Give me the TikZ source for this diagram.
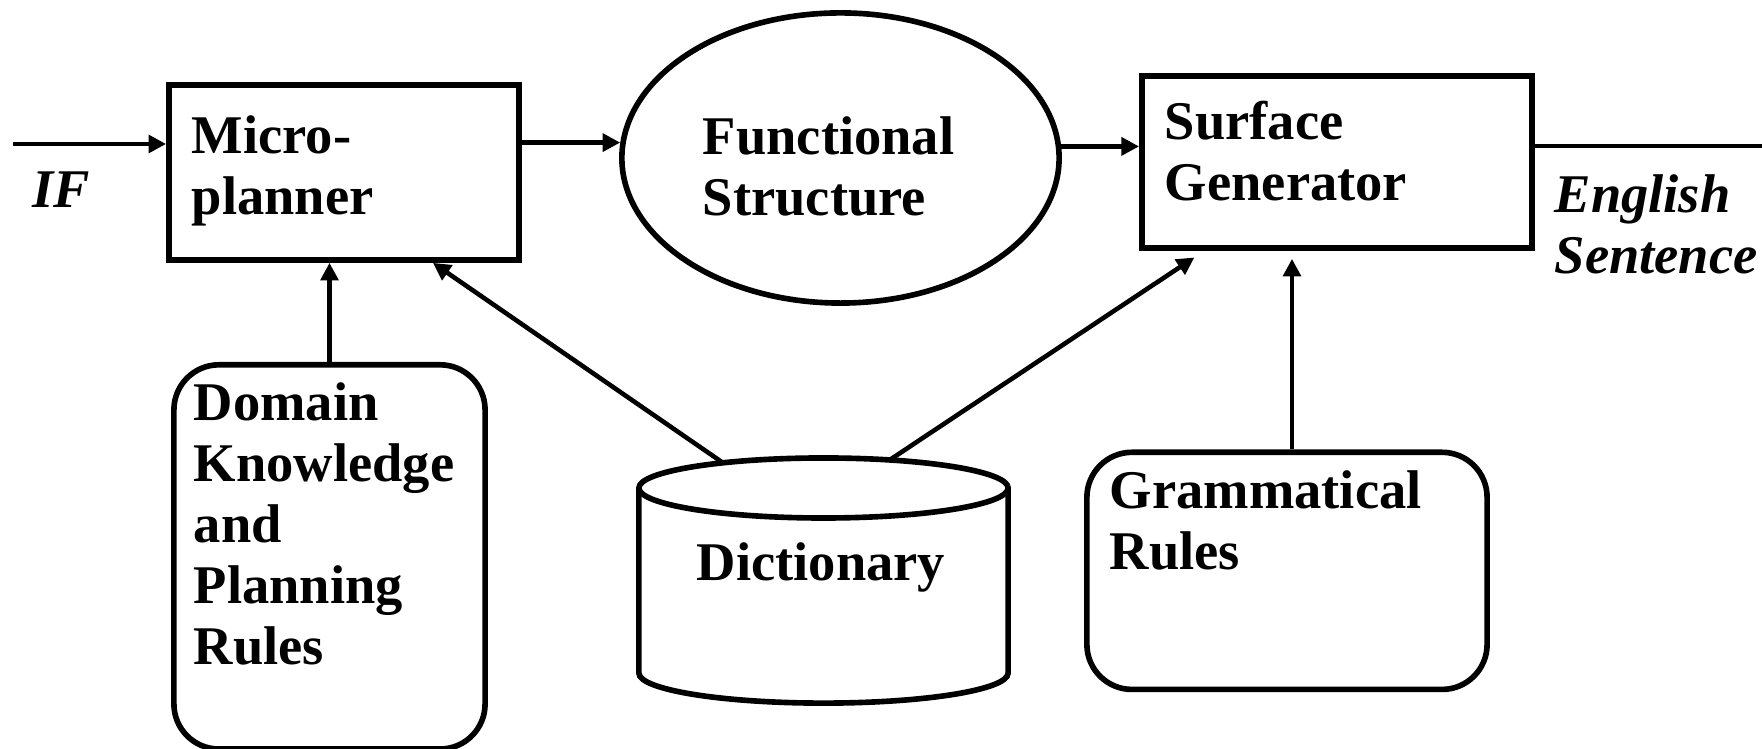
\documentclass[tikz,border=0pt]{standalone}
\usepackage{fontspec}
\setmainfont{Liberation Serif}
\usepackage{tikz}
\usetikzlibrary{positioning, arrows.meta, shapes.geometric, calc}
\tikzset{
  Bx/.style={draw=black, line width=1.6pt, rectangle, align=left,
    inner xsep=0.23cm, inner ysep=0.19cm,
    font=\fontsize{15.5}{17.3}\selectfont\bfseries},
  Br/.style={Bx, rounded corners=0.45cm},
  El/.style={draw=black, line width=1.6pt, ellipse, inner sep=0pt,
    align=left, font=\fontsize{15.5}{17.3}\selectfont\bfseries},
  tx/.style={inner sep=0pt, font=\fontsize{15.5}{17.3}\selectfont\bfseries},
  lb/.style={inner sep=0pt, align=left,
    font=\fontsize{15.5}{17.3}\selectfont\bfseries\itshape},
  a/.style={-{Triangle[length=5pt,width=5pt]}, line width=1.3pt},
  ln/.style={line width=1.3pt},
  cyl/.style={line width=1.6pt}
}

\begin{document}
\begin{tikzpicture}[x=0.01cm, y=0.01cm]
\useasboundingbox (0,0) rectangle (1762,749);

% ═══════════════════════════════════════════════════════════════
%  top row: IF -> Micro-planner -> Functional Structure -> Surface Generator
% ═══════════════════════════════════════════════════════════════
\node[Bx, text width=3.04cm, text height=0.5cm, text depth=0.87cm] (micro)
  at (344,576.5) {Micro-\\planner};
\node[El, minimum width=4.37cm, minimum height=2.9cm, text width=2.75cm,
      text height=0.54cm] (fs)
  at (840.5,591) {Functional\\Structure};
\node[Bx, text width=3.44cm, text height=0.45cm, text depth=0.89cm] (surf)
  at (1337,587) {Surface\\Generator};

\node[lb] (iflbl) at (61,559) {IF};
\node[lb, anchor=west] (eng) at (1554,525) {English\\Sentence};

\coordinate (ifin) at (13,605);
\coordinate (sent) at (1762,603);

\draw[a] (ifin) -- (ifin -| micro.west);
\draw[a] (micro.east |- fs.176) -- (fs.176);
\draw[a] (fs.3) -- (fs.3 -| surf.west);
\draw[ln] (surf.east |- sent) -- (sent);

% ═══════════════════════════════════════════════════════════════
%  bottom row: knowledge sources
% ═══════════════════════════════════════════════════════════════
\node[Br, anchor=north, inner xsep=0.2cm, text width=2.71cm,
      text height=0.37cm, text depth=3.09cm] (dom)
  at (329.5,387) {Domain\\Knowledge\\and\\Planning\\Rules};
\node[Br, anchor=north, text width=3.54cm, text height=0.37cm, text depth=1.62cm] (gram)
  at (1287,299.5) {Grammatical\\Rules};

% dictionary drum, top rim centred on dtop
\coordinate (dtop) at (823.5,261);
\draw[cyl] (dtop) ellipse [x radius=1.845cm, y radius=0.3cm];
\draw[cyl] ($(dtop)+(-1.845cm,0)$) -- ++(0,-1.85cm)
  arc[start angle=180, end angle=360, x radius=1.845cm, y radius=0.3cm]
  -- ++(0,1.85cm);
\node[tx] (dict) at (821,182) {Dictionary};

\coordinate (dL) at ($(dtop)+(123:1.845cm and 0.3cm)$);
\coordinate (dR) at ($(dtop)+(69:1.845cm and 0.3cm)$);

\draw[a] (dom.north) -- (dom.north |- micro.south);
\draw[a, shorten >=0.08cm] ([xshift=0.05cm]gram.north) -- ([xshift=0.05cm]gram.north |- surf.south);
\draw[a] (dL) -- ($(micro.south)!0.5!(micro.south east)$);
\draw[a, shorten >=0.12cm] (dR) -- ($(surf.south west)!0.33!(surf.south)$);

\end{tikzpicture}
\end{document}
